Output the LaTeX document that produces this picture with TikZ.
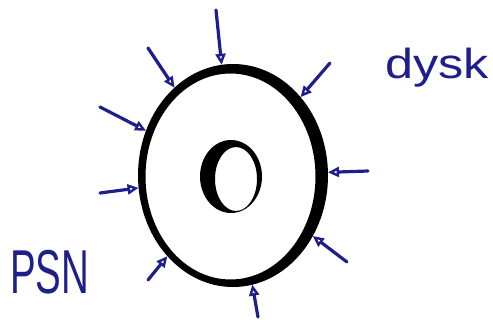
\documentclass[tikz,border=0pt]{standalone}
\usepackage{fontspec}
\setmainfont{Liberation Sans}
\usetikzlibrary{shapes.geometric,arrows.meta}
\definecolor{ink}{HTML}{1E1E8C}
\begin{document}
\begin{tikzpicture}[x=1pt,y=-1pt,
  arr/.style={draw=ink, line width=3.2pt, line cap=round, -{Triangle[open,length=11pt,width=10pt,line width=2.4pt]}},
  lbl/.style={text=ink, inner sep=0pt, outer sep=0pt}]
\useasboundingbox (0,0) rectangle (493,327);
% disk outline (node used as target for arrows)
\node[ellipse, minimum width=190pt, minimum height=223pt, inner sep=0pt, outer sep=0pt] (disk) at (233,175.5) {};
\fill[black, even odd rule] (233,175.5) ellipse [x radius=95pt, y radius=111.5pt]
  (230.5,176.5) ellipse [x radius=85pt, y radius=103pt];
% centre hole
\node[ellipse, minimum width=62pt, minimum height=73pt, inner sep=0pt] (hole) at (231,176.5) {};
\fill[black, even odd rule] (231,176.5) ellipse [x radius=31pt, y radius=36.5pt]
  (236,179) ellipse [x radius=21pt, y radius=32pt];
% arrow starts
\coordinate (a1) at (216,10);
\coordinate (a2) at (148,48);
\coordinate (a3) at (100,107);
\coordinate (a4) at (100,193);
\coordinate (a5) at (148,280);
\coordinate (a6) at (258,317);
\coordinate (a7) at (347,262);
\coordinate (a8) at (368,171);
\coordinate (a9) at (330,63);
\foreach \i in {1,...,9} { \draw[arr] (a\i) -- (disk); }
% labels
\node[lbl, anchor=base west] (dysk) at (385,78) {\fontsize{42}{42}\selectfont\scalebox{1.2}[1]{dysk}};
\node[lbl, anchor=base west] (psn) at (10,293) {\fontsize{62}{62}\selectfont\scalebox{0.62}[1]{PSN}};
\end{tikzpicture}
\end{document}
